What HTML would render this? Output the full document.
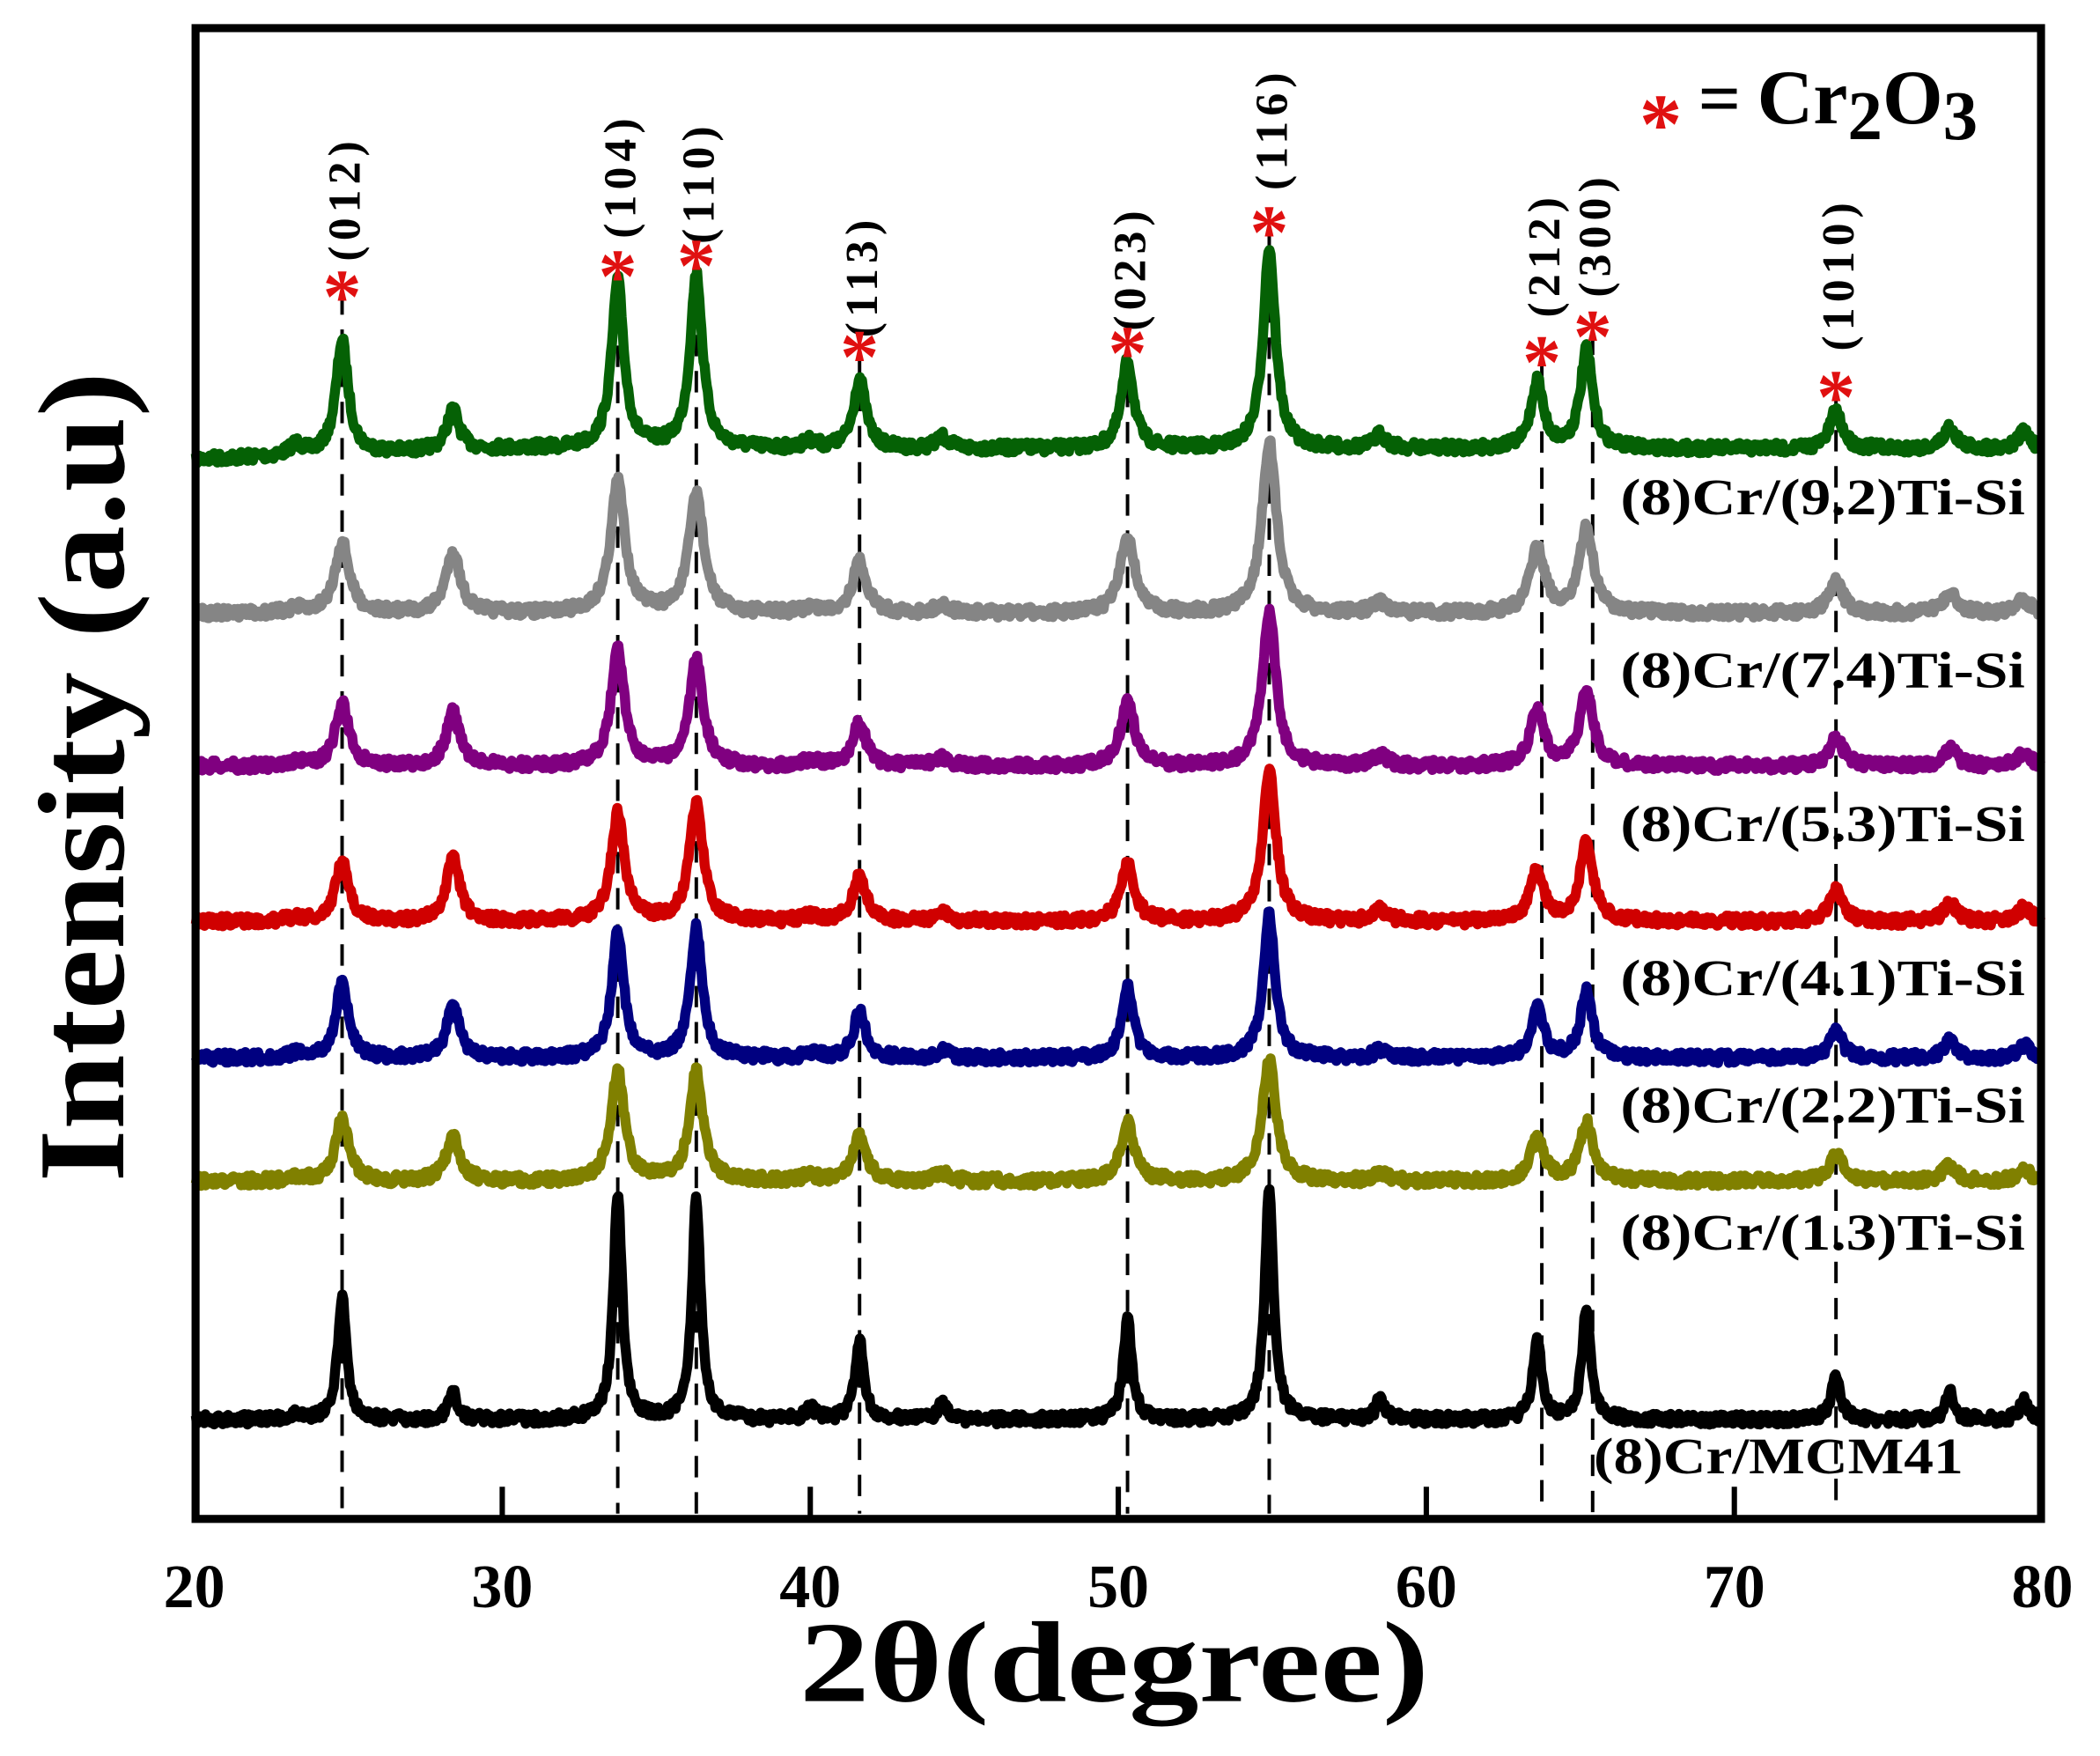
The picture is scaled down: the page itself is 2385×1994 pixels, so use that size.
<!DOCTYPE html>
<html><head><meta charset="utf-8"><style>
html,body{margin:0;padding:0;background:#fff;}
svg{display:block;}
text{font-family:"Liberation Serif",serif;font-weight:bold;}
</style></head><body>
<svg id="s" width="2385" height="1994" viewBox="0 0 1568 1311" xmlns="http://www.w3.org/2000/svg">
<rect width="1568" height="1311" fill="#fff"/>
<g id="dash" stroke="#000" stroke-width="2.6" stroke-dasharray="16 11"></g>
<g id="curves" fill="none" stroke-width="7.5" stroke-linejoin="round"></g>
<g id="ticks" stroke="#000" stroke-width="4"></g>
<rect x="146" y="21" width="1378" height="1113" fill="none" stroke="#000" stroke-width="6"/>
<g id="hkl" font-size="34" letter-spacing="4"></g>
<g id="stars" fill="#e01010" font-size="58" font-family="Liberation Sans,sans-serif" text-anchor="middle"></g>
<g font-size="38" text-anchor="end" fill="#000" lengthAdjust="spacingAndGlyphs">
<text x="1512" y="384" textLength="302" lengthAdjust="spacingAndGlyphs">(8)Cr/(9.2)Ti-Si</text>
<text x="1512" y="513" textLength="302" lengthAdjust="spacingAndGlyphs">(8)Cr/(7.4)Ti-Si</text>
<text x="1512" y="628" textLength="302" lengthAdjust="spacingAndGlyphs">(8)Cr/(5.3)Ti-Si</text>
<text x="1512" y="743" textLength="302" lengthAdjust="spacingAndGlyphs">(8)Cr/(4.1)Ti-Si</text>
<text x="1512" y="838" textLength="302" lengthAdjust="spacingAndGlyphs">(8)Cr/(2.2)Ti-Si</text>
<text x="1512" y="933" textLength="302" lengthAdjust="spacingAndGlyphs">(8)Cr/(1.3)Ti-Si</text>
<text x="1466" y="1100" textLength="276" lengthAdjust="spacingAndGlyphs">(8)Cr/MCM41</text>
</g>
<text x="1240" y="114" fill="#e01010" font-size="64" font-family="Liberation Sans,sans-serif" text-anchor="middle">*</text>
<text x="1268" y="92" font-size="56">=</text>
<text x="1312" y="92" font-size="58">Cr<tspan font-size="52" dy="12">2</tspan><tspan dy="-12">O</tspan><tspan font-size="52" dy="12">3</tspan></text>
<g font-size="46" text-anchor="middle">
<text x="145" y="1200">20</text><text x="375" y="1200">30</text><text x="605" y="1200">40</text>
<text x="835" y="1200">50</text><text x="1065" y="1200">60</text><text x="1295" y="1200">70</text><text x="1525" y="1200">80</text>
</g>
<text x="832" y="1270" font-size="86" text-anchor="middle" textLength="470" lengthAdjust="spacingAndGlyphs">2θ(degree)</text>
<text transform="translate(92,580) rotate(-90)" font-size="92" text-anchor="middle" textLength="605" lengthAdjust="spacingAndGlyphs">Intensity (a.u)</text>
</svg>
<script>
var NS="http://www.w3.org/2000/svg";
function X(d){return 145+23*(d-20);}
var pos=[24.8,28.4,33.75,36.3,41.6,50.3,54.9,58.5,63.6,65.2,73.3,77.0,79.4,40.0,44.3,23.3];
var series=[
 {c:"#056105",b:335,w:0.24,a:[85,30,125,130,52,65,150,10,50,73,28,16,12,5,8,8]},
 {c:"#858585",b:458,w:0.28,a:[53,46,98,90,38,58,128,8,48,63,23,15,10,4,6,3]},
 {c:"#800080",b:572,w:0.26,a:[47,40,87,80,32,50,117,8,42,57,22,13,10,4,6,3]},
 {c:"#d00000",b:688,w:0.26,a:[45,48,80,88,33,43,113,8,38,58,23,13,10,4,6,3]},
 {c:"#000080",b:790,w:0.23,a:[58,42,95,97,35,52,107,6,38,50,22,13,10,4,6,3]},
 {c:"#808000",b:882,w:0.26,a:[47,34,82,82,34,44,92,6,32,44,20,12,8,4,6,3]},
 {c:"#000000",b:1060,w:0.17,a:[93,20,170,165,60,75,175,15,60,85,35,20,15,10,12,3]}
];
var seed=7;function rnd(){seed=(seed*16807)%2147483647;return seed/2147483647;}
var g=document.getElementById("curves");
series.forEach(function(s,k){
 var d="";
 for(var t=20.05;t<=79.95;t+=0.035){
  var y=s.b;
  if(k==0)y+=(t<30?(30-t)*0.8:0);
  for(var i=0;i<pos.length;i++){var u=(t-pos[i])/s.w;y-=s.a[i]/(1+u*u);}
  y+=(rnd()-0.5)*8;
  d+=(d?"L":"M")+X(t).toFixed(1)+" "+y.toFixed(1);
 }
 var p=document.createElementNS(NS,"path");p.setAttribute("d",d);p.setAttribute("stroke",s.c);g.appendChild(p);
});
var labs=[["(012)",24.8,195,213],["(104)",33.75,178,198],["(110)",36.3,182,190],["(113)",41.6,252,258],["(023)",50.3,247,255],["(116)",54.9,142,165],["(212)",63.75,237,262],["(300)",65.4,222,243],["(1010)",73.3,262,288]];
var dg=document.getElementById("dash"),hg=document.getElementById("hkl"),sg=document.getElementById("stars");
labs.forEach(function(l){
 var x=X(l[1]);
 var ln=document.createElementNS(NS,"line");ln.setAttribute("x1",x);ln.setAttribute("x2",x);ln.setAttribute("y1",l[3]+6);ln.setAttribute("y2",1130);dg.appendChild(ln);
 var t=document.createElementNS(NS,"text");t.setAttribute("transform","translate("+(x+13)+","+l[2]+") rotate(-90)");t.textContent=l[0];hg.appendChild(t);
 var st=document.createElementNS(NS,"text");st.setAttribute("x",x);st.setAttribute("y",l[3]+28);st.textContent="*";sg.appendChild(st);
});
var tg=document.getElementById("ticks");
[30,40,50,60,70].forEach(function(v){var ln=document.createElementNS(NS,"line");ln.setAttribute("x1",X(v));ln.setAttribute("x2",X(v));ln.setAttribute("y1",1110);ln.setAttribute("y2",1134);tg.appendChild(ln);});
</script>
</body></html>
